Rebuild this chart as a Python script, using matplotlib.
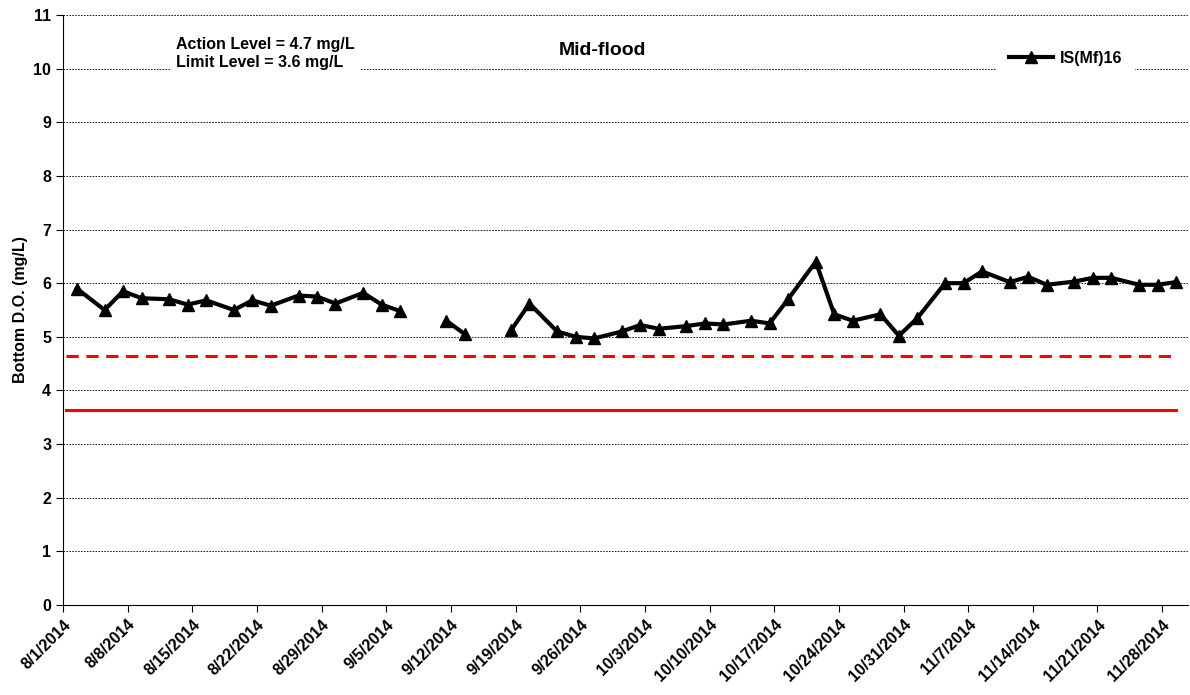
import matplotlib
matplotlib.use('Agg')
import matplotlib.pyplot as plt
import numpy as np
import pandas as pd

# ── data ──
start = pd.Timestamp('2014-08-01')
day_offsets = [1.5, 4.5, 6.5, 8.5, 11.5, 13.5, 15.5, 18.5, 20.5, 22.5, 25.5, 27.5, 29.5,
               32.5, 34.5, 36.5, 39.0,
               41.5, 43.5, 46.0,
               48.5, 50.5, 53.5, 55.5, 57.5, 60.5, 62.5, 64.5, 67.5, 69.5, 71.5, 74.5,
               76.5, 78.5, 81.5, 83.5, 85.5, 88.5, 90.5, 92.5, 95.5, 97.5, 99.5, 102.5,
               104.5, 106.5, 109.5, 111.5, 113.5, 116.5, 118.5, 120.5]
do_values = [5.90, 5.50, 5.85, 5.72, 5.70, 5.60, 5.68, 5.50, 5.68, 5.58, 5.77, 5.75, 5.62,
             5.82, 5.60, 5.48, np.nan,
             5.30, 5.05, np.nan,
             5.12, 5.62, 5.10, 5.00, 4.97, 5.10, 5.22, 5.15, 5.20, 5.25, 5.23, 5.30,
             5.25, 5.70, 6.40, 5.42, 5.30, 5.42, 5.02, 5.35, 6.00, 6.00, 6.22, 6.02,
             6.12, 5.97, 6.03, 6.10, 6.10, 5.97, 5.97, 6.02]
action_level = 4.65
limit_level = 3.63
line_span = [0.3, 120.5]

dates = [start + pd.Timedelta(days=d) for d in day_offsets]
span = [start + pd.Timedelta(days=d) for d in line_span]

plt.rcParams['font.family'] = ['Liberation Sans', 'DejaVu Sans']
fig = plt.figure(figsize=(11.9, 6.95), dpi=100)
ax = fig.add_axes([63/1190, 1 - 605/695, 1125/1190, 590/695])

ax.plot(span, [action_level]*2, color='#FF0000', lw=2.2, ls=(0, (4, 2.5)))
ax.plot(span, [limit_level]*2, color='#FF0000', lw=2.2)
ax.plot(dates, do_values, color='black', lw=3, marker='^', ms=8, label='IS(Mf)16')

ax.set_ylim(0, 11)
ax.set_yticks(range(0, 12))
ax.set_xlim(start, start + pd.Timedelta(days=121.8))
ticks = pd.date_range('2014-08-01', '2014-11-28', freq='7D')
ax.set_xticks(ticks)
ax.set_xticklabels([f'{t.month}/{t.day}/{t.year}' for t in ticks],
                   rotation=45, ha='right', rotation_mode='anchor', fontweight='bold', fontsize=11.5)
for lab in ax.get_yticklabels():
    lab.set_fontweight('bold')
    lab.set_fontsize(11.5)
ax.tick_params(axis='both', direction='out', length=5)
ax.grid(axis='y', color='black', ls=(0, (2, 1.5)), lw=0.6)
ax.set_axisbelow(True)
for s in ['top', 'right']:
    ax.spines[s].set_visible(False)
ax.set_ylabel('Bottom D.O. (mg/L)', fontweight='bold', fontsize=11.5)

ax.text(0.10, 0.935, 'Action Level = 4.7 mg/L\nLimit Level = 3.6 mg/L', transform=ax.transAxes,
        fontsize=11.5, fontweight='bold', va='center', ha='left', linespacing=1.3,
        bbox=dict(facecolor='white', edgecolor='none', pad=4))
ax.text(0.48, 0.94, 'Mid-flood', transform=ax.transAxes, fontsize=14, fontweight='bold',
        ha='center', va='center', bbox=dict(facecolor='white', edgecolor='none', pad=5))
leg = ax.legend(loc='upper right', bbox_to_anchor=(0.96, 0.975), frameon=True,
                handlelength=2.8, handletextpad=0.4, borderpad=0.8,
                prop={'weight': 'bold', 'size': 11.5})
leg.get_frame().set_edgecolor('none')
leg.get_frame().set_alpha(1)

fig.savefig('out.png', dpi=100)
